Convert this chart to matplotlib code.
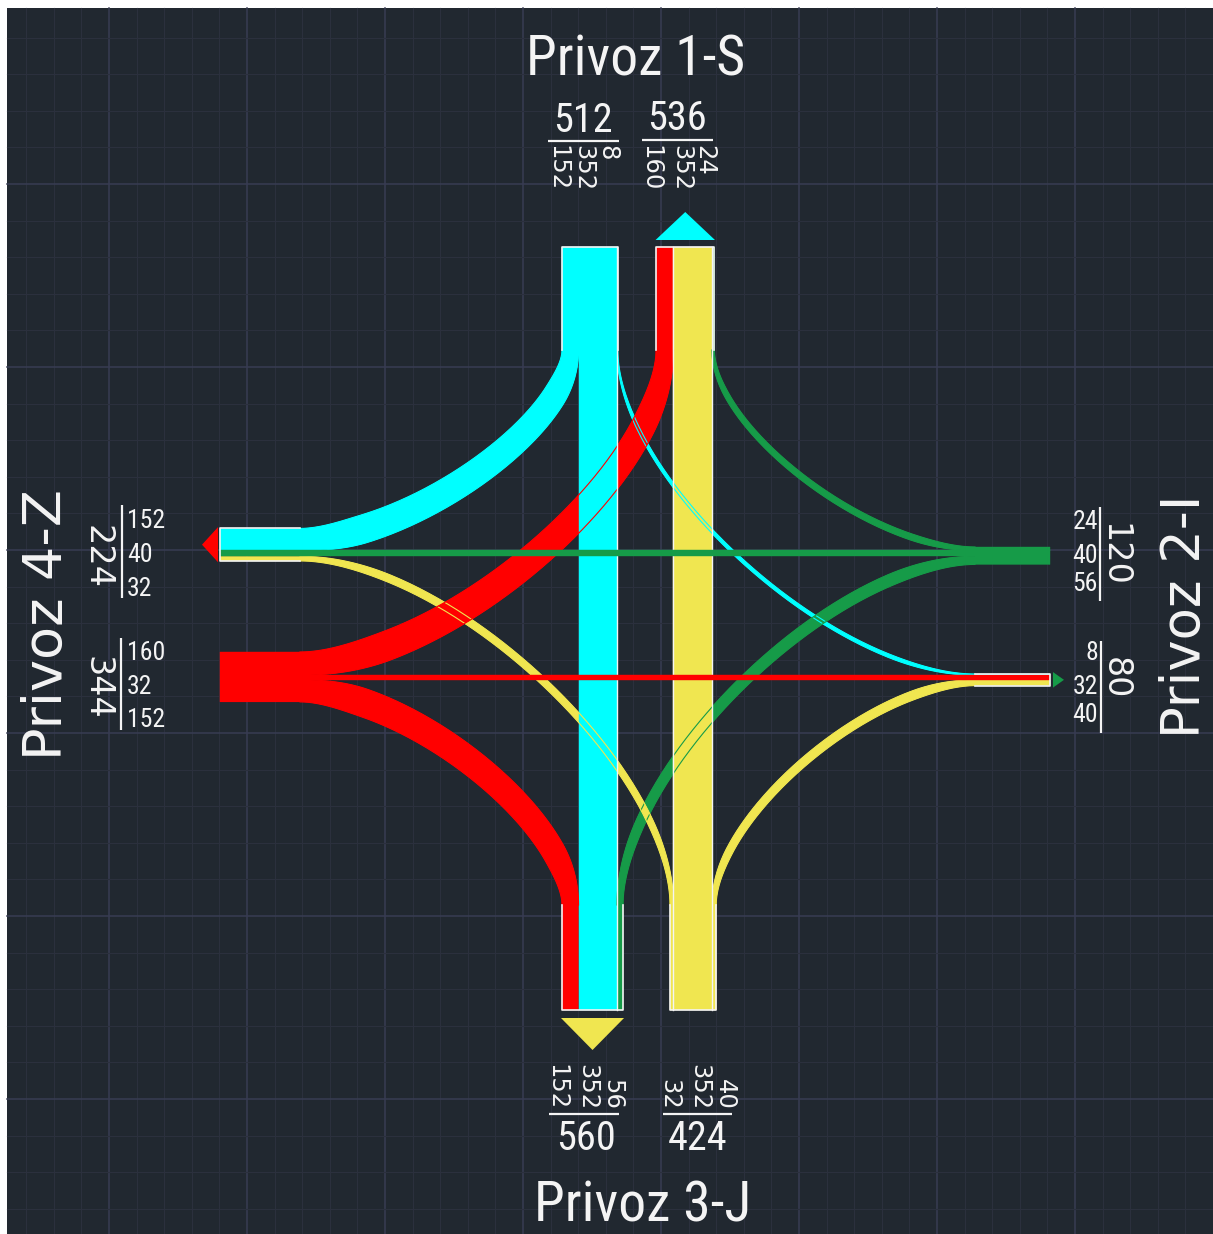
import numpy as np
import matplotlib
matplotlib.use('Agg')
import matplotlib.pyplot as plt
from matplotlib.patches import Polygon, Rectangle
from matplotlib import font_manager as fm

# ---------------- data ----------------
approaches = ['Privoz 1-S', 'Privoz 2-I', 'Privoz 3-J', 'Privoz 4-Z']   # N, E, S, W
right_turn = [152, 24, 40, 152]
straight = [352, 40, 352, 32]
left_turn = [8, 56, 32, 160]
colors = ['#00ffff', '#169b48', '#f0e650', '#ff0000']

# ---------------- style / layout ----------------
W_PX, H_PX, DPI = 1213, 1234, 100
STRETCH = 1.33          # picture is stretched vertically
KX = 0.109              # px per vehicle (horizontal)
KY = KX * STRETCH
CURVE_GAIN, CURVE_MIN = 1.2, 1.6   # turning ribbons are drawn a bit wider
BG = '#212830'
WHITE = '#f4f4f4'


def first_font(cands, default):
    for c in cands:
        try:
            fm.findfont(fm.FontProperties(family=c), fallback_to_default=False)
            return c
        except Exception:
            continue
    return default


NARROW = first_font(['Liberation Sans Narrow', 'Arial Narrow', 'Roboto Condensed'], 'Liberation Sans')
WIDE = 'DejaVu Sans'

fig = plt.figure(figsize=(W_PX / DPI, H_PX / DPI), dpi=DPI, facecolor='white')
ax = fig.add_axes([0, 0, 1, 1])
ax.set_xlim(0, W_PX)
ax.set_ylim(H_PX, 0)
ax.axis('off')
ax.add_patch(Rectangle((7, 8), W_PX - 7, H_PX - 8, facecolor=BG, edgecolor='none', zorder=0))

# grid
for n in range(-6, 45):
    x = 1075 - 27.6 * n
    if 7 < x < W_PX:
        major = (n % 5 == 0)
        ax.plot([x, x], [8, H_PX], color='#383c53' if major else '#2b303d',
                lw=1.1 if major else 0.8, zorder=0.5)
for n in range(-6, 40):
    y = 1099 - 36.6 * n
    if 8 < y < H_PX:
        major = (n % 5 == 0)
        ax.plot([7, W_PX], [y, y], color='#383c53' if major else '#2b303d',
                lw=1.1 if major else 0.8, zorder=0.5)

# lane geometry (N, E, S, W)
vertical = [True, False, True, False]
inner = [350, 975, 905, 300]
outer = [247, 1050, 1010, 220]
k_lat = [KX, KY, KX, KY]
in_low = [562, 547, 670, 652]
sgn_in = [1, 1, -1, -1]
sgn_out = [-s for s in sgn_in]
outward = [-1, 1, 1, -1]


def pt(a, lat, lon):
    return (lat, lon) if vertical[a] else (lon, lat)


tot_in = [right_turn[i] + straight[i] + left_turn[i] for i in range(4)]
in_right = [in_low[i] if sgn_in[i] > 0 else in_low[i] + tot_in[i] * k_lat[i] for i in range(4)]

flows = {}
lat_in = {}
for i in range(4):
    cum = 0
    for vals, dest in ((right_turn, (i + 3) % 4), (straight, (i + 2) % 4), (left_turn, (i + 1) % 4)):
        v = vals[i]
        flows[(i, dest)] = v
        lat_in[(i, dest)] = in_right[i] + sgn_in[i] * (cum + v / 2) * k_lat[i]
        cum += v

tot_out = [0] * 4
out_right = [0] * 4
lat_out = {}
out_srcs = {}
for j in range(4):
    srcs = [((j + 1) % 4, right_turn[(j + 1) % 4]),
            ((j + 2) % 4, straight[(j + 2) % 4]),
            ((j + 3) % 4, left_turn[(j + 3) % 4])]
    out_srcs[j] = srcs
    tot_out[j] = sum(v for _, v in srcs)
    c = lat_in[((j + 2) % 4, j)]
    out_right[j] = c - sgn_out[j] * (srcs[0][1] + srcs[1][1] / 2) * k_lat[j]
    cum = 0
    for src, v in srcs:
        lat_out[(src, j)] = out_right[j] + sgn_out[j] * (cum + v / 2) * k_lat[j]
        cum += v


def seg(a, b, n=12):
    a, b = np.asarray(a, float), np.asarray(b, float)
    t = np.linspace(0, 1, n)[:, None]
    return a + (b - a) * t


def bezier(P0, C, P3, f=0.4, n=160):
    P0, C, P3 = (np.asarray(p, float) for p in (P0, C, P3))
    c1 = P0 + f * (C - P0)
    c2 = P3 + f * (C - P3)
    t = np.linspace(0, 1, n)[:, None]
    return (1 - t) ** 3 * P0 + 3 * t * (1 - t) ** 2 * c1 + 3 * t ** 2 * (1 - t) * c2 + t ** 3 * P3


def band_edges(P, w):
    U = np.asarray(P, float).copy()
    U[:, 1] /= STRETCH
    T = np.gradient(U, axis=0)
    T /= np.linalg.norm(T, axis=1, keepdims=True)
    Nrm = np.column_stack([-T[:, 1], T[:, 0]])
    w = np.broadcast_to(np.asarray(w, float), (len(U),))[:, None]
    L = U + Nrm * w / 2
    R = U - Nrm * w / 2
    L[:, 1] *= STRETCH
    R[:, 1] *= STRETCH
    return L, R


# inbound lane fills (single colour, hides seams)
for i in range(4):
    lo, hi = in_low[i], in_low[i] + tot_in[i] * k_lat[i]
    a, b = sorted((inner[i], outer[i]))
    if vertical[i]:
        ax.add_patch(Rectangle((lo, a), hi - lo, b - a, facecolor=colors[i], edgecolor='none', zorder=2))
    else:
        ax.add_patch(Rectangle((a, lo), b - a, hi - lo, facecolor=colors[i], edgecolor='none', zorder=2))

for (i, j), v in flows.items():
    col = colors[i]
    w = v * KX
    if j == (i + 2) % 4:
        P = seg(pt(i, lat_in[(i, j)], outer[i]), pt(j, lat_out[(i, j)], outer[j]), 60)
        L, R = band_edges(P, w)
        z = 3 if vertical[i] else 5
        ax.add_patch(Polygon(np.vstack([L, R[::-1]]), closed=True, facecolor=col,
                             edgecolor=col, lw=0.3, zorder=z))
        if vertical[i]:
            edges = [L, R] if i == 2 else [L if L[0, 0] > R[0, 0] else R]
            for E in edges:
                ax.plot(E[:, 0], E[:, 1], color=WHITE, lw=1.0, zorder=4.6)
        continue
    P0 = pt(i, lat_in[(i, j)], inner[i])
    P3 = pt(j, lat_out[(i, j)], inner[j])
    C = (P0[0], P3[1]) if vertical[i] else (P3[0], P0[1])
    A = seg(pt(i, lat_in[(i, j)], outer[i]), P0)
    B = bezier(P0, C, P3)
    D = seg(P3, pt(j, lat_out[(i, j)], outer[j]))
    P = np.vstack([A[:-1], B, D[1:]])
    s0, s1 = len(A) - 1, len(A) - 1 + len(B)
    wc = w * CURVE_GAIN + CURVE_MIN
    idx = np.arange(len(B))
    r = np.clip(np.minimum(idx, idx[::-1]) / 30.0, 0, 1)
    ramp = r * r * (3 - 2 * r)
    widths = np.full(len(P), w)
    widths[s0:s1] = w + (wc - w) * ramp
    L, R = band_edges(P, widths)
    ax.add_patch(Polygon(np.vstack([L, R[::-1]]), closed=True, facecolor=col,
                         edgecolor=col, lw=0.3, zorder=2))
    for E in (L, R):
        ax.plot(E[s0:s1, 0], E[s0:s1, 1], color=col, lw=0.8, zorder=4)


# lane outlines (open on the junction side)
def lane_outline(a, lo, hi):
    lon_in, lon_out = inner[a], outer[a]
    pts = np.array([pt(a, lo, lon_in), pt(a, lo, lon_out), pt(a, hi, lon_out), pt(a, hi, lon_in)])
    ax.plot(pts[:, 0], pts[:, 1], color=WHITE, lw=1.2, zorder=6)


outlined_in = [True, False, True, False]
for i in range(4):
    if outlined_in[i]:
        lane_outline(i, in_low[i], in_low[i] + tot_in[i] * k_lat[i])
out_low = [out_right[j] if sgn_out[j] > 0 else out_right[j] - tot_out[j] * k_lat[j] for j in range(4)]
for j in range(4):
    lane_outline(j, out_low[j], out_low[j] + tot_out[j] * k_lat[j])

# exit arrows
tri_gap = [7, 3, 8, 2]
tri_depth = [28, 11, 32, 16]
tri_pad = [0.5, 1.5, 1.0, 1.0]
for j in range(4):
    lo = out_low[j] - tri_pad[j] * (1 if vertical[j] else STRETCH)
    hi = out_low[j] + tot_out[j] * k_lat[j] + tri_pad[j] * (1 if vertical[j] else STRETCH)
    base = outer[j] + outward[j] * tri_gap[j]
    tip = outer[j] + outward[j] * (tri_gap[j] + tri_depth[j])
    pts = [pt(j, lo, base), pt(j, hi, base), pt(j, (lo + hi) / 2, tip)]
    ax.add_patch(Polygon(pts, closed=True, facecolor=colors[j], edgecolor='none', zorder=6))


# ---------------- labels ----------------
def in_comps(i):
    vals = [right_turn[i], straight[i], left_turn[i]]
    return vals if sgn_in[i] > 0 else vals[::-1]


def out_comps(j):
    vals = [v for _, v in out_srcs[j]]
    return vals if sgn_out[j] > 0 else vals[::-1]


layout = {
    (0, 'in'): dict(kind='tb', total=(583, 121), line=(548, 619, 141), cx=[557, 583, 607], cy=145, va='top'),
    (0, 'out'): dict(kind='tb', total=(677, 119), line=(642, 713, 140), cx=[650, 681, 704], cy=145, va='top'),
    (2, 'out'): dict(kind='tb', total=(586, 1138), line=(549, 619, 1114), cx=[556, 587, 612], cy=1110, va='bottom'),
    (2, 'in'): dict(kind='tb', total=(698, 1138), line=(663, 732, 1114), cx=[669, 699, 725], cy=1110, va='bottom'),
    (3, 'out'): dict(kind='side', total=(97, 557), line=(122, 505, 598), cy=[521, 555, 589], cx=127, ha='left'),
    (3, 'in'): dict(kind='side', total=(97, 688), line=(121, 638, 730), cy=[653, 687, 720], cx=127, ha='left'),
    (1, 'in'): dict(kind='side', total=(1114, 555), line=(1100, 507, 601), cy=[522, 556, 584], cx=1098, ha='right'),
    (1, 'out'): dict(kind='side', total=(1115, 678), line=(1101, 641, 733), cy=[653, 687, 715], cx=1098, ha='right'),
}

for (a, kind), L in layout.items():
    comps = in_comps(a) if kind == 'in' else out_comps(a)
    total = tot_in[a] if kind == 'in' else tot_out[a]
    if L['kind'] == 'tb':
        x0, x1, y = L['line']
        ax.plot([x0, x1], [y, y], color=WHITE, lw=1.6, zorder=7, solid_capstyle='butt')
        ax.text(*L['total'], str(total), color=WHITE, fontsize=29, family=NARROW,
                ha='center', va='center', zorder=7)
        for x, v in zip(L['cx'], comps):
            ax.text(x, L['cy'], str(v), color=WHITE, fontsize=17.5, family=WIDE, rotation=-90,
                    ha='center', va=L['va'], zorder=7)
    else:
        x, y0, y1 = L['line']
        ax.plot([x, x], [y0, y1], color=WHITE, lw=1.6, zorder=7, solid_capstyle='butt')
        ax.text(*L['total'], str(total), color=WHITE, fontsize=24, family=WIDE, rotation=-90,
                ha='center', va='center', zorder=7)
        for y, v in zip(L['cy'], comps):
            ax.text(L['cx'], y, str(v), color=WHITE, fontsize=18.5, family=NARROW,
                    ha=L['ha'], va='center', zorder=7)

# approach titles
ax.text(636, 75, approaches[0], color=WHITE, fontsize=40, family=NARROW, ha='center', va='baseline', zorder=7)
ax.text(643, 1221, approaches[2], color=WHITE, fontsize=40, family=NARROW, ha='center', va='baseline', zorder=7)
ax.text(62, 625, approaches[3], color=WHITE, fontsize=39, family=WIDE, rotation=90,
        rotation_mode='anchor', ha='center', va='baseline', zorder=7)
ax.text(1200, 616, approaches[1], color=WHITE, fontsize=38, family=WIDE, rotation=90,
        rotation_mode='anchor', ha='center', va='baseline', zorder=7)

fig.savefig('out.png', dpi=DPI, facecolor='white')
